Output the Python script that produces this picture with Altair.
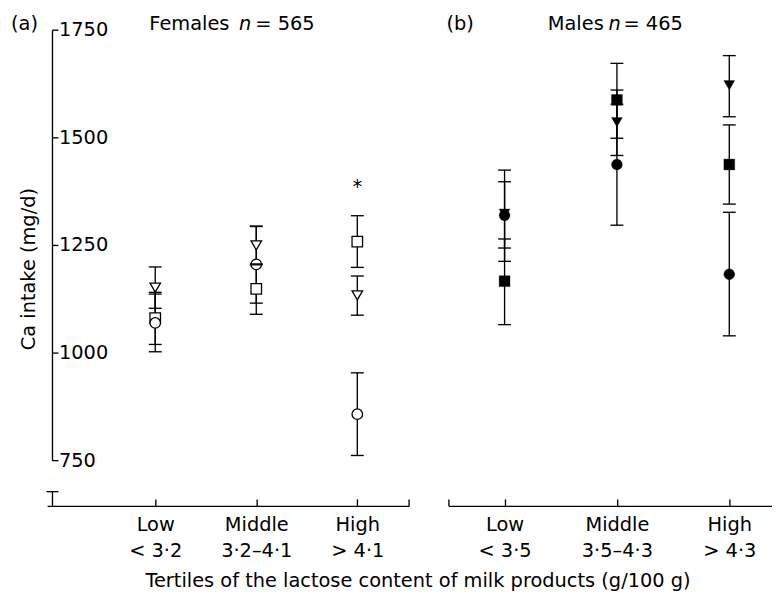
import json
import altair as alt
import pandas as pd

# ---------------- data ----------------
categories = ["Low", "Middle", "High"]
female_ranges = ["< 3·2", "3·2–4·1", "> 4·1"]
male_ranges = ["< 3·5", "3·5–4·3", "> 4·3"]
series_names = ["triangle", "square", "circle"]   # drawing order

# Females (open symbols): mean and error-bar ends, mg/d, per tertile
f_triangle_mean = [1152, 1250, 1134]
f_triangle_lo = [1104, 1205, 1088]
f_triangle_hi = [1200, 1294, 1179]
f_square_mean = [1081, 1149, 1259]
f_square_lo = [1020, 1090, 1199]
f_square_hi = [1141, 1207, 1319]
f_circle_mean = [1070, 1206, 858]
f_circle_lo = [1003, 1116, 762]
f_circle_hi = [1137, 1295, 954]

# Males (filled symbols)
m_triangle_mean = [1324, 1536, 1622]
m_triangle_lo = [1244, 1459, 1549]
m_triangle_hi = [1398, 1611, 1691]
m_square_mean = [1167, 1588, 1438]
m_square_lo = [1066, 1499, 1346]
m_square_hi = [1265, 1673, 1530]
m_circle_mean = [1320, 1438, 1183]
m_circle_lo = [1213, 1297, 1040]
m_circle_hi = [1425, 1578, 1327]

female_sig = ["", "", "*"]
y_ticks = [750, 1000, 1250, 1500, 1750]

# ---------------- layout / style constants ----------------
FONT = "DejaVu Sans"
FS = 19.5
H = 479
Y_DOMAIN = [645, 1750]
Y_AXIS_SPAN = [750, 1750]
BREAK_SPAN = [645, 678]
SIG_Y = 1386

A_DOMAIN = [-0.07, 3.51]
UNIT_A = 101.75
B_DOMAIN = [0.5, 3.38]
UNIT_B = 113.15
WA = (A_DOMAIN[1] - A_DOMAIN[0]) * UNIT_A
WB = (B_DOMAIN[1] - B_DOMAIN[0]) * UNIT_B
YAX = -0.017
YTICK_END = YAX + 6 / UNIT_A
LW = 1.35


def frame(means, los, his):
    rows = []
    for s, m, lo, hi in zip(series_names, means, los, his):
        for i, cat in enumerate(categories):
            rows.append({"series": s, "pos": i + 1, "category": cat,
                         "mean": m[i], "lo": lo[i], "hi": hi[i]})
    return pd.DataFrame(rows)


fem = frame([f_triangle_mean, f_square_mean, f_circle_mean],
            [f_triangle_lo, f_square_lo, f_circle_lo],
            [f_triangle_hi, f_square_hi, f_circle_hi])
mal = frame([m_triangle_mean, m_square_mean, m_circle_mean],
            [m_triangle_lo, m_square_lo, m_circle_lo],
            [m_triangle_hi, m_square_hi, m_circle_hi])


def caps_of(df):
    return df.melt(id_vars=["series", "pos"], value_vars=["lo", "hi"],
                   var_name="end", value_name="value")


def label_expr(ranges):
    parts = []
    for i, (c, r) in enumerate(zip(categories, ranges)):
        parts.append(f"datum.value == {i + 1} ? {json.dumps([c, r], ensure_ascii=False)}")
    return " : ".join(parts) + " : ''"


def text_layer(txt, px, py, **kw):
    opts = dict(font=FONT, fontSize=FS, color="black", align="left",
                baseline="alphabetic")
    opts.update(kw)
    return alt.Chart(pd.DataFrame({"label": [txt]})).mark_text(**opts).encode(
        text="label:N", x=alt.value(px), y=alt.value(py))


def panel(df, domain, ranges, tick_values, filled):
    xs = alt.Scale(domain=domain, nice=False, zero=False)
    ys = alt.Scale(domain=Y_DOMAIN, nice=False, zero=False)
    bottom_axis = alt.Axis(orient="bottom", values=[1, 2, 3],
                           labelExpr=label_expr(ranges), ticks=False, tickSize=0,
                           domain=True, domainColor="black", domainWidth=LW,
                           grid=False, labelFont=FONT, labelFontSize=FS,
                           labelColor="black", labelPadding=9.5,
                           labelLineHeight=27, labelOverlap=False,
                           labelBound=False, labelFlush=False)
    top_axis = alt.Axis(orient="top", offset=-H, values=tick_values, ticks=True,
                        tickSize=7, tickWidth=LW, tickColor="black",
                        labels=False, domain=False, grid=False)
    bars = alt.Chart(df).mark_rule(color="black", strokeWidth=LW).encode(
        x=alt.X("pos:Q", scale=xs, axis=bottom_axis, title=None),
        y=alt.Y("lo:Q", scale=ys, axis=None),
        y2="hi:Q")
    caps = alt.Chart(caps_of(df)).mark_tick(
        orient="horizontal", size=13, thickness=LW, color="black", opacity=1
    ).encode(
        x=alt.X("pos:Q", scale=xs, axis=top_axis, title=None),
        y=alt.Y("value:Q", scale=ys, axis=None))
    if filled:
        pmark = dict(filled=True, fill="black", stroke="black", strokeWidth=0.3,
                     size=120, opacity=1)
    else:
        pmark = dict(filled=True, fill="white", stroke="black", strokeWidth=1.3,
                     size=112, opacity=1)
    pts = alt.Chart(df).mark_point(**pmark).encode(
        x=alt.X("pos:Q", scale=xs, axis=None),
        y=alt.Y("mean:Q", scale=ys, axis=None),
        shape=alt.Shape("series:N",
                        scale=alt.Scale(domain=series_names,
                                        range=["triangle-down", "square", "circle"]),
                        legend=None))
    return [bars, pts, caps], xs, ys


# ---------------- panel a ----------------
layers_a, xs_a, ys_a = panel(fem, A_DOMAIN, female_ranges,
                             [1, 2, 3, A_DOMAIN[1]], False)

one = pd.DataFrame({"k": [0]})
y_line = alt.Chart(one).mark_rule(color="black", strokeWidth=LW).encode(
    x=alt.X(datum=YAX, scale=xs_a, axis=None),
    y=alt.Y(datum=Y_AXIS_SPAN[0], scale=ys_a, axis=None),
    y2=alt.Y2(datum=Y_AXIS_SPAN[1]))
break_line = alt.Chart(one).mark_rule(color="black", strokeWidth=LW).encode(
    x=alt.X(datum=YAX, scale=xs_a, axis=None),
    y=alt.Y(datum=BREAK_SPAN[0], scale=ys_a, axis=None),
    y2=alt.Y2(datum=BREAK_SPAN[1]))
break_cap = alt.Chart(one).mark_tick(orient="horizontal", size=12, thickness=LW,
                                     color="black", opacity=1).encode(
    x=alt.X(datum=YAX, scale=xs_a, axis=None),
    y=alt.Y(datum=BREAK_SPAN[1], scale=ys_a, axis=None))

ytick_df = pd.DataFrame({"v": y_ticks})
y_tick_marks = alt.Chart(ytick_df).mark_rule(color="black", strokeWidth=LW).encode(
    x=alt.X(datum=YAX, scale=xs_a, axis=None),
    x2=alt.X2(datum=YTICK_END),
    y=alt.Y("v:Q", scale=ys_a, axis=None))
y_tick_labels = alt.Chart(ytick_df).mark_text(
    font=FONT, fontSize=FS, color="black", align="left", baseline="middle", dx=0.5
).encode(
    x=alt.X(datum=YTICK_END, scale=xs_a, axis=None),
    y=alt.Y("v:Q", scale=ys_a, axis=None),
    text=alt.Text("v:Q", format="d"))

sig = pd.DataFrame({"pos": [i + 1 for i, s in enumerate(female_sig) if s],
                    "label": [s for s in female_sig if s],
                    "y": [SIG_Y for s in female_sig if s]})
sig_layer = alt.Chart(sig).mark_text(font=FONT, fontSize=FS, color="black",
                                     align="center", baseline="middle").encode(
    x=alt.X("pos:Q", scale=xs_a, axis=None),
    y=alt.Y("y:Q", scale=ys_a, axis=None),
    text="label:N")

texts_a = [
    text_layer("(a)", -36.4, -0.5),
    text_layer("Females", 102.9, -0.5),
    text_layer("n", 193.2, -0.5, fontStyle="italic"),
    text_layer("= 565", 209.7, -0.5),
    text_layer("Ca intake (mg/d)", -18.3, 240.6, angle=270, align="center",
               baseline="middle"),
    text_layer("Tertiles of the lactose content of milk products (g/100 g)",
               373.5, 561, align="center"),
]

panel_a = alt.layer(y_line, break_line, break_cap, y_tick_marks, y_tick_labels,
                    *layers_a, sig_layer, *texts_a).properties(width=WA, height=H)

# ---------------- panel b ----------------
layers_b, xs_b, ys_b = panel(mal, B_DOMAIN, male_ranges,
                             [B_DOMAIN[0], 1, 2, 3], True)
texts_b = [
    text_layer("(b)", -2, -0.5),
    text_layer("Males", 100.1, -0.5),
    text_layer("n", 161.3, -0.5, fontStyle="italic"),
    text_layer("= 465", 176.3, -0.5),
]
panel_b = alt.layer(*layers_b, *texts_b).properties(width=WB, height=H)

spacing = 450.2 - (46.83 + WA)
chart = alt.hconcat(panel_a, panel_b, spacing=spacing, bounds="flush").properties(
    padding={"left": 2.4, "top": 3.3, "right": 0, "bottom": 2},
    background="white",
).configure_view(stroke=None)

chart.save("out.html", embed_options={"renderer": "svg", "actions": False})
